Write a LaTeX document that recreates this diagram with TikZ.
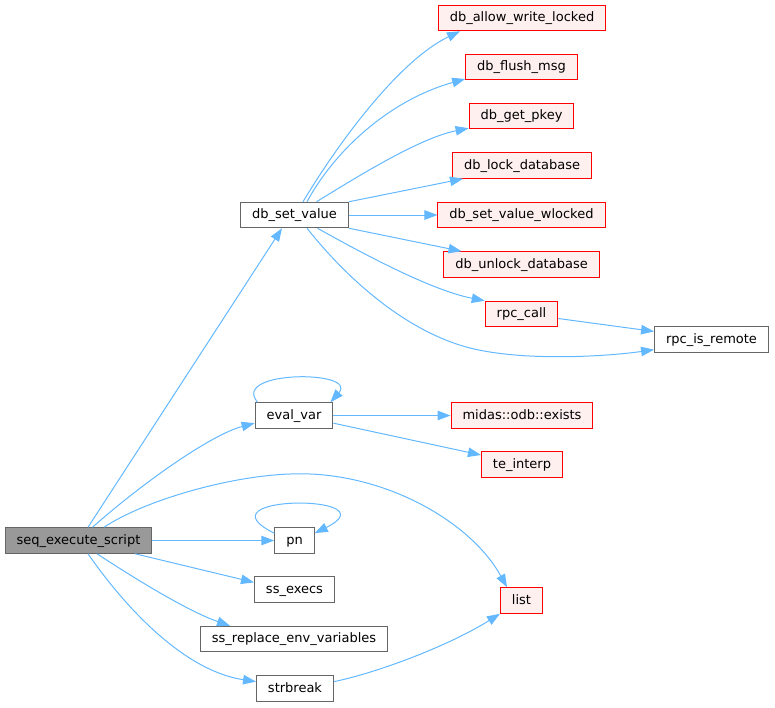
\documentclass[tikz,border=0pt]{standalone}
\usepackage{fontspec}
\setmainfont{DejaVu Sans}
\usepackage{xcolor}
\usepackage{tikz}
\usetikzlibrary{arrows.meta}
\definecolor{edgeblue}{HTML}{63B8FF}
\definecolor{boxgrey}{HTML}{666666}
\definecolor{rootfill}{HTML}{999999}
\definecolor{redfill}{HTML}{FFF0F0}

\begin{document}
\begin{tikzpicture}[x=1pt,y=-1pt,
  fn/.style={draw=boxgrey,line width=1pt,fill=white,minimum height=25.5pt,
    inner xsep=11.5pt,inner ysep=0pt,text height=9.5pt,text depth=2.5pt,
    font=\fontsize{13}{15}\selectfont},
  root/.style={fn,fill=rootfill},
  undoc/.style={fn,draw=red,fill=redfill},
  call/.style={draw=edgeblue,line width=1pt,-{Triangle[length=13pt,width=9.5pt]}}]
\useasboundingbox (0,0) rectangle (775,707);
%% caller
\node[root] (sq) at (78.5,540.5) {seq\_execute\_script};
%% second column
\node[fn] (dbsv) at (294.5,215) {db\_set\_value};
\node[fn] (ev) at (294,415.5) {eval\_var};
\node[fn] (pn) at (294.5,540.5) {pn};
\node[fn] (sse) at (294.5,589.5) {ss\_execs};
\node[fn] (sre) at (294,639) {ss\_replace\_env\_variables};
\node[fn] (sb) at (295,688.5) {strbreak};
%% third column
\node[undoc] (dawl) at (522,18) {db\_allow\_write\_locked};
\node[undoc] (dfm) at (521.5,67) {db\_flush\_msg};
\node[undoc] (dgp) at (521.5,116) {db\_get\_pkey};
\node[undoc] (dld) at (522,165.5) {db\_lock\_database};
\node[undoc] (dsvw) at (521.5,215) {db\_set\_value\_wlocked};
\node[undoc] (dud) at (521.5,264.5) {db\_unlock\_database};
\node[undoc] (rpcc) at (521.5,314) {rpc\_call};
\node[undoc] (mox) at (522,415.5) {midas::odb::exists};
\node[undoc] (ti) at (522,464.5) {te\_interp};
\node[undoc] (lst) at (521.5,600.5) {list};
%% fourth column
\node[fn] (rpcr) at (711.5,339.5) {rpc\_is\_remote};
%%
\draw[call] ([xshift=9.5pt]sq.north) -- ([xshift=-12.5pt]dbsv.south);
\draw[call] ([xshift=14pt]sq.north) .. controls (140,485) and (210,435) .. (ev.191);
\draw[call] ([xshift=25.5pt]sq.north) .. controls (145,500) and (230,476) .. (290,474)
  .. controls (380,470) and (470,520) .. ([xshift=-14.5pt]lst.north);
\draw[call] (sq.east) -- (pn.west);
\draw[call] ([xshift=56.5pt]sq.south) -- (sse.170);
\draw[call] ([xshift=18.5pt]sq.south) .. controls (140,582) and (190,612) .. ([xshift=-64pt]sre.north);
\draw[call] ([xshift=9.5pt]sq.south) .. controls (120,600) and (180,670) .. (sb.170);
%%
\draw[call] (sb.10) .. controls (380,672) and (450,645) .. (lst.south west);
%%
\draw[call] (ev.160) .. controls (230,370) and (359,370) .. (ev.20);
\draw[call] (ev.east) -- (mox.west);
\draw[call] (ev.-11) -- (ti.167);
%%
\draw[call] (pn.160) .. controls (195,494) and (394,494) .. (pn.20);
%%
\draw[call] ([xshift=8.5pt]dbsv.north) .. controls (340,140) and (400,60) .. ([xshift=-62pt]dawl.south);
\draw[call] ([xshift=12.5pt]dbsv.north) .. controls (335,150) and (390,100) .. (dfm.192);
\draw[call] ([xshift=22pt]dbsv.north) .. controls (360,175) and (420,138) .. (dgp.193);
\draw[call] (dbsv.north east) -- ([xshift=-59pt]dld.south);
\draw[call] (dbsv.east) -- (dsvw.west);
\draw[call] (dbsv.south east) -- ([xshift=-60pt]dud.north);
\draw[call] ([xshift=23pt]dbsv.south) .. controls (360,252) and (430,290) .. (rpcc.north west);
\draw[call] ([xshift=12.5pt]dbsv.south) .. controls (340,270) and (400,330) .. (470,348)
  .. controls (526,362) and (610,356) .. (rpcr.190);
%%
\draw[call] (rpcc.-7) -- (rpcr.172);
\end{tikzpicture}
\end{document}
